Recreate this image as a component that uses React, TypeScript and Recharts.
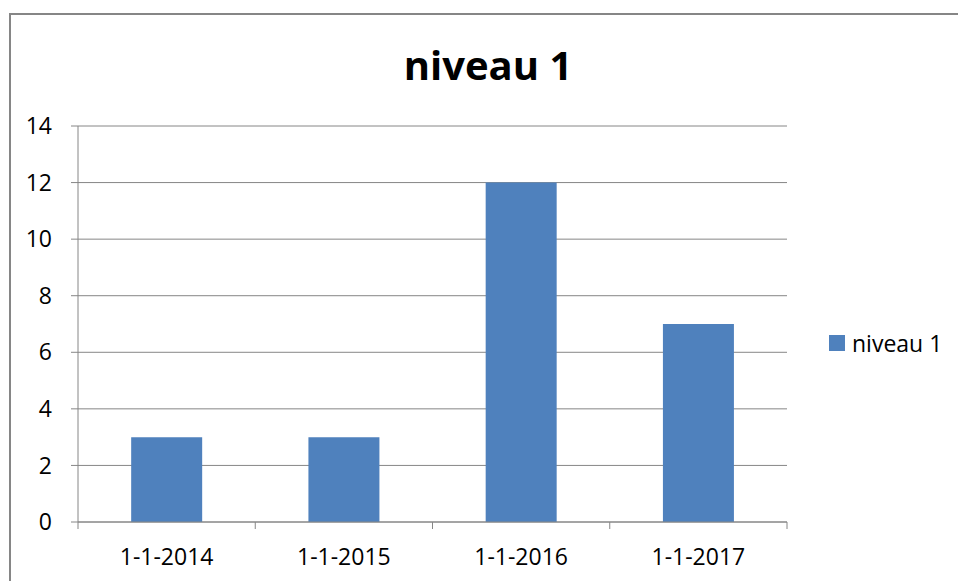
import { BarChart, Bar, XAxis, YAxis, CartesianGrid } from 'recharts';

// categories and values
const categories = ['1-1-2014', '1-1-2015', '1-1-2016', '1-1-2017'];
const niveau1 = [3, 3, 12, 7];
const yTicks = [0, 2, 4, 6, 8, 10, 12, 14];

const seriesName = 'niveau 1';
const barColor = '#4F81BD';
const lineColor = '#868686';
const font = '"Open Sans", "Noto Sans", sans-serif';

const TICK_SIZE = 7;
const TICK_MARGIN = 20;

const data = categories.map((c, i) => ({ date: c, value: niveau1[i] }));

// category label plus tick marks on the band edges (like excel)
const CategoryTick = (props: any) => {
    const { x, y, width, payload, index, visibleTicksCount } = props;
    const half = width / (visibleTicksCount || categories.length) / 2;
    const axisY = y - TICK_SIZE - TICK_MARGIN;
    const last = index === (visibleTicksCount || categories.length) - 1;
    return (
        <g>
            <line x1={x - half} x2={x - half} y1={axisY} y2={axisY + TICK_SIZE} stroke={lineColor} />
            {last && <line x1={x + half} x2={x + half} y1={axisY} y2={axisY + TICK_SIZE} stroke={lineColor} />}
            <text x={x} y={y} dy="0.71em" textAnchor="middle" fill="#000" fontSize={23} fontFamily={font}>
                {payload.value}
            </text>
        </g>
    );
};

const App = () => {
    return (
        <div style={{ position: 'absolute', left: 0, top: 0, width: 958, height: 581, overflow: 'hidden', background: '#fff', fontFamily: font }}>
            {/* outer frame, only top and left edges visible */}
            <div style={{ position: 'absolute', left: 9, top: 13, width: 949, height: 568, borderTop: `2px solid ${lineColor}`, borderLeft: `2px solid ${lineColor}`, boxSizing: 'border-box' }} />

            <div style={{ position: 'absolute', left: 0, top: 45, width: 976, textAlign: 'center', fontSize: 40, lineHeight: '40px', fontWeight: 700, color: '#000' }}>
                {seriesName}
            </div>

            <div style={{ position: 'absolute', left: 0, top: 0 }}>
                <BarChart width={958} height={581} data={data} margin={{ top: 126, right: 171, bottom: 9, left: 0 }} barCategoryGap="30%">
                    <CartesianGrid vertical={false} stroke={lineColor} strokeWidth={1} />
                    <XAxis dataKey="date" height={50} interval={0} tickLine={false} axisLine={{ stroke: lineColor }} tickSize={TICK_SIZE} tickMargin={TICK_MARGIN} tick={<CategoryTick />} />
                    <YAxis domain={[0, 14]} ticks={yTicks} width={78} tickSize={7} tickMargin={19} tickLine={{ stroke: lineColor }} axisLine={{ stroke: lineColor }} tick={{ fill: '#000', fontSize: 23, fontFamily: font }} />
                    <Bar dataKey="value" name={seriesName} fill={barColor} isAnimationActive={false} />
                </BarChart>
            </div>

            {/* legend */}
            <div style={{ position: 'absolute', left: 829, top: 327, display: 'flex', alignItems: 'center', fontSize: 23, color: '#000' }}>
                <span style={{ display: 'inline-block', width: 16, height: 16, background: barColor, marginRight: 7 }} />
                <span>{seriesName}</span>
            </div>
        </div>
    );
};

export default App;
